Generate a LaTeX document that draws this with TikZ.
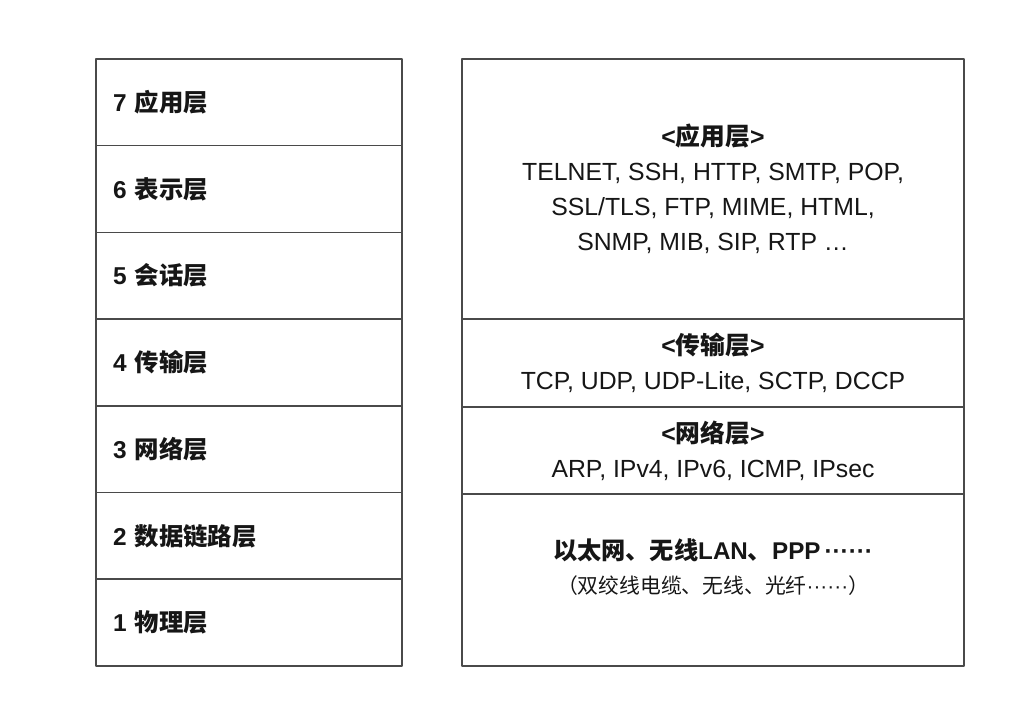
\documentclass[tikz,border=0pt]{standalone}
\usepackage{fontspec}
\setmainfont{Liberation Sans}
\newfontfamily\cjk{Noto Sans CJK SC}
\usetikzlibrary{positioning}
\definecolor{lineC}{HTML}{4A4A4A}
\definecolor{inkC}{HTML}{161616}

\begin{document}
\begin{tikzpicture}[
  x=0.5pt,
  y=-0.5pt,
  line join=round,
  layerbox/.style={draw=lineC, line width=0.8pt, outer sep=0pt,
    inner xsep=8.5pt, text width=136pt, minimum height=43.35pt,
    align=left, text=inkC, font=\fontsize{12.2}{14}\selectfont\bfseries},
  protobox/.style={draw=lineC, line width=0.8pt, outer sep=0pt,
    minimum width=251pt, align=center, text=inkC,
    font=\fontsize{12.4}{17.5}\selectfont}
]

\useasboundingbox (0,0) rectangle (1032,704);

% OSI reference model
\foreach \n/\name in {7/应用层,6/表示层,5/会话层,4/传输层,3/网络层,2/数据链路层,1/物理层}{
  \node[layerbox, anchor=north west] (l\n) at (96,{59+(7-\n)*86.7}) {\n\ {\cjk\name}};
}

% TCP/IP protocol stack
\node[protobox, minimum height=130pt, anchor=north west] (app) at (462,59)
  {{\bfseries<{\cjk 应用层}>}\\TELNET, SSH, HTTP, SMTP, POP,\\SSL/TLS, FTP, MIME, HTML,\\SNMP, MIB, SIP, RTP \ldots};
\node[protobox, minimum height=44pt, below=0pt of app] (trans)
  {{\bfseries<{\cjk 传输层}>}\\TCP, UDP, UDP-Lite, SCTP, DCCP};
\node[protobox, minimum height=43.5pt, below=0pt of trans] (net)
  {{\bfseries<{\cjk 网络层}>}\\ARP, IPv4, IPv6, ICMP, IPsec};
\node[protobox, minimum height=86pt, below=0pt of net] (link) {};

% Link layer text sits a bit above centre
\node[align=center, text=inkC, font=\fontsize{12.1}{17}\selectfont] (linktxt) at ([yshift=6.5pt]link.center)
  {{\bfseries{\cjk 以太网、无线}LAN{\cjk 、}PPP\,······}\\
   {\fontsize{10.4}{17}\selectfont{\cjk （双绞线电缆、无线、光纤}······{\cjk ）}}};

\end{tikzpicture}
\end{document}
